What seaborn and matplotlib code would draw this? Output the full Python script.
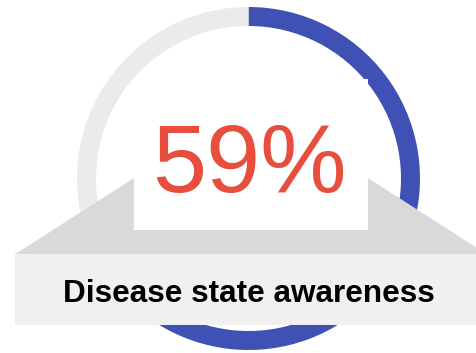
import matplotlib
matplotlib.use("Agg")
import matplotlib.pyplot as plt
import seaborn as sns
from matplotlib.patches import Polygon, Rectangle

sns.set_theme(style="white")
plt.rcParams['font.family'] = ['Liberation Sans', 'DejaVu Sans']

# Data
categories = ["Aware", "Not aware"]
values = [59, 41]
ring_colors = ["#3f51b5", "#ebebeb"]
value_label = "59%"
metric_label = "Disease state awareness"

W, H = 477, 353
fig = plt.figure(figsize=(W / 100, H / 100), dpi=100)
ax = fig.add_axes([0, 0, 1, 1])

def Y(yp):
    return H - yp

cx, cy, r = 248.5, 178.5, 171.5
ax.pie(values, colors=ring_colors, startangle=90, counterclock=False,
       center=(cx, Y(cy)), radius=r,
       wedgeprops=dict(width=19, linewidth=0, zorder=1))

# gray trapezoid banner
trap = Polygon([(134, Y(178)), (368, Y(178)), (477, Y(248)), (477, Y(254)),
                (15, Y(254)), (17, Y(253))], closed=True,
               facecolor="#d9d9d9", edgecolor="none", zorder=2)
ax.add_patch(trap)

# white center panel
ax.add_patch(Rectangle((134, Y(230)), 368 - 134, 230 - 79,
                       facecolor="white", edgecolor="none", zorder=3))

# label box
ax.add_patch(Rectangle((15, Y(325)), 477 - 15, 325 - 254,
                       facecolor="#f0f0f0", edgecolor="none", zorder=3))

ax.text(249.5, Y(192), value_label, ha="center", va="baseline",
        fontsize=70, color="#e84e3d", zorder=4)
ax.text(249, Y(302), metric_label, ha="center", va="baseline",
        fontsize=22.7, fontweight="bold", color="black", zorder=4)

ax.set_xlim(0, W)
ax.set_ylim(0, H)
ax.set_aspect("auto")
ax.axis("off")

fig.savefig("out.png", dpi=100, facecolor="white")
